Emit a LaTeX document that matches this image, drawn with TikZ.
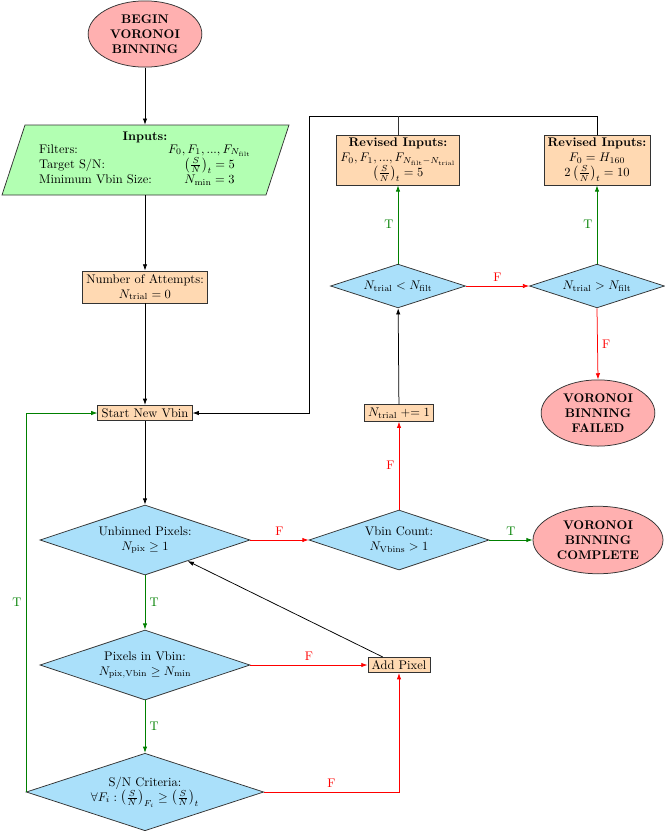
\documentclass[tikz,border=0pt]{standalone}
\usetikzlibrary{shapes.geometric,arrows.meta}
\definecolor{termfill}{RGB}{255,176,176}
\definecolor{iofill}{RGB}{178,255,178}
\definecolor{procfill}{RGB}{255,217,178}
\definecolor{decfill}{RGB}{170,224,250}
\definecolor{tgreen}{RGB}{0,128,0}
\begin{document}
\begin{tikzpicture}[x=0.8pt,y=-0.8pt,
  term/.style={ellipse,draw=black!80,semithick,fill=termfill,font=\bfseries,align=center,inner sep=0pt},
  proc/.style={rectangle,draw=black!80,semithick,fill=procfill,align=center,inner xsep=3pt,inner ysep=2.5pt},
  dec/.style={diamond,draw=black!80,semithick,fill=decfill,align=center,inner sep=0pt,aspect=3},
  conn/.style={-{Latex[length=5pt,width=3.5pt]},semithick},
  yes/.style={conn,draw=tgreen},
  no/.style={conn,draw=red},
  tlab/.style={text=tgreen},
  flab/.style={text=red}]
\useasboundingbox (0,0) rectangle (665,832);

% shapes
\node[term,minimum width=91pt,minimum height=53pt] (begin) at (145,34) {BEGIN\\VORONOI\\BINNING};

\filldraw[fill=iofill,draw=black!80,semithick] (2,195) -- (25,125) -- (289,125) -- (266,195) -- cycle;
\node[minimum height=56pt,inner sep=0pt,align=center] (inputs) at (145,160)
  {\textbf{Inputs:}\\[-1pt]
   \begin{tabular}{@{}l@{\hspace{13pt}}c@{}}
   Filters: & $F_0, F_1, ..., F_{N_{\mathrm{filt}}}$\\
   Target S/N: & $\left(\frac{S}{N}\right)_t=5$\\
   Minimum Vbin Size: & $N_{\mathrm{min}}=3$
   \end{tabular}};

\node[proc] (attempts) at (145,287) {Number of Attempts:\\$N_{\mathrm{trial}}=0$};
\node[proc] (start) at (145,413) {Start New Vbin};
\node[dec,minimum width=168pt,minimum height=56pt] (unb) at (145,540) {Unbinned Pixels:\\$N_{\mathrm{pix}}\geq 1$};
\node[dec,minimum width=168pt,minimum height=56pt] (pix) at (145,665) {Pixels in Vbin:\\$N_{\mathrm{pix,Vbin}}\geq N_{\mathrm{min}}$};
\node[dec,minimum width=190pt,minimum height=62pt] (sn) at (145,792) {S/N Criteria:\\$\forall F_i:\left(\frac{S}{N}\right)_{F_i}\geq\left(\frac{S}{N}\right)_t$};
\node[dec,minimum width=144pt,minimum height=48pt] (cnt) at (399,540) {Vbin Count:\\$N_{\mathrm{Vbins}}>1$};
\node[term,minimum width=104pt,minimum height=54pt] (done) at (598,540) {VORONOI\\BINNING\\COMPLETE};
\node[proc] (inc) at (399,413) {$N_{\mathrm{trial}}\mathrel{{+}{=}}1$};
\node[proc] (add) at (399,665) {Add Pixel};
\node[term,minimum width=91pt,minimum height=53pt] (fail) at (598,413) {VORONOI\\BINNING\\FAILED};
\node[dec,minimum width=108pt,minimum height=35pt] (lt) at (398,286) {$N_{\mathrm{trial}}<N_{\mathrm{filt}}$};
\node[dec,minimum width=108pt,minimum height=35pt] (gt) at (597,286) {$N_{\mathrm{trial}}>N_{\mathrm{filt}}$};
\node[proc] (rev1) at (398,160) {\textbf{Revised Inputs:}\\$F_0,F_1,...,F_{N_{\mathrm{filt}}-N_{\mathrm{trial}}}$\\$\left(\frac{S}{N}\right)_t=5$};
\node[proc] (rev2) at (597,160) {\textbf{Revised Inputs:}\\$F_0=H_{160}$\\$2\left(\frac{S}{N}\right)_t=10$};
\coordinate (tl) at (309,116);

% connectors
\draw[conn] (begin) -- (inputs);
\draw[conn] (inputs) -- (attempts);
\draw[conn] (attempts) -- (start);
\draw[conn] (start) -- (unb);
\draw[conn] (add) -- (unb);
\draw[conn] (inc) -- (lt);
\draw[conn] (rev2.north) |- (tl) |- (start.east);
\draw[semithick,black!80] (rev1.north) -- (rev1.north |- tl);

\draw[no] (unb.east) -- node[above,flab]{F} (cnt.west);
\draw[yes] (cnt.east) -- node[above,tlab]{T} (done.west);
\draw[no] (cnt.north) -- node[left,flab]{F} (inc.south);
\draw[no] (lt.east) -- node[above,flab]{F} (gt.west);
\draw[no] (gt.south) -- node[right,flab]{F} (fail.north);
\draw[yes] (lt.north) -- node[left,tlab]{T} (rev1.south);
\draw[yes] (gt.north) -- node[left,tlab]{T} (rev2.south);
\draw[yes] (unb.south) -- node[right,tlab]{T} (pix.north);
\draw[yes] (pix.south) -- node[right,tlab]{T} (sn.north);
\draw[yes] (sn.west) |- node[pos=0.25,left,tlab]{T} (start.west);
\draw[no] (pix.east) -- node[above,flab]{F} (add.west);
\draw[no] (sn.east) -| node[pos=0.25,above,flab]{F} (add.south);
\end{tikzpicture}
\end{document}
